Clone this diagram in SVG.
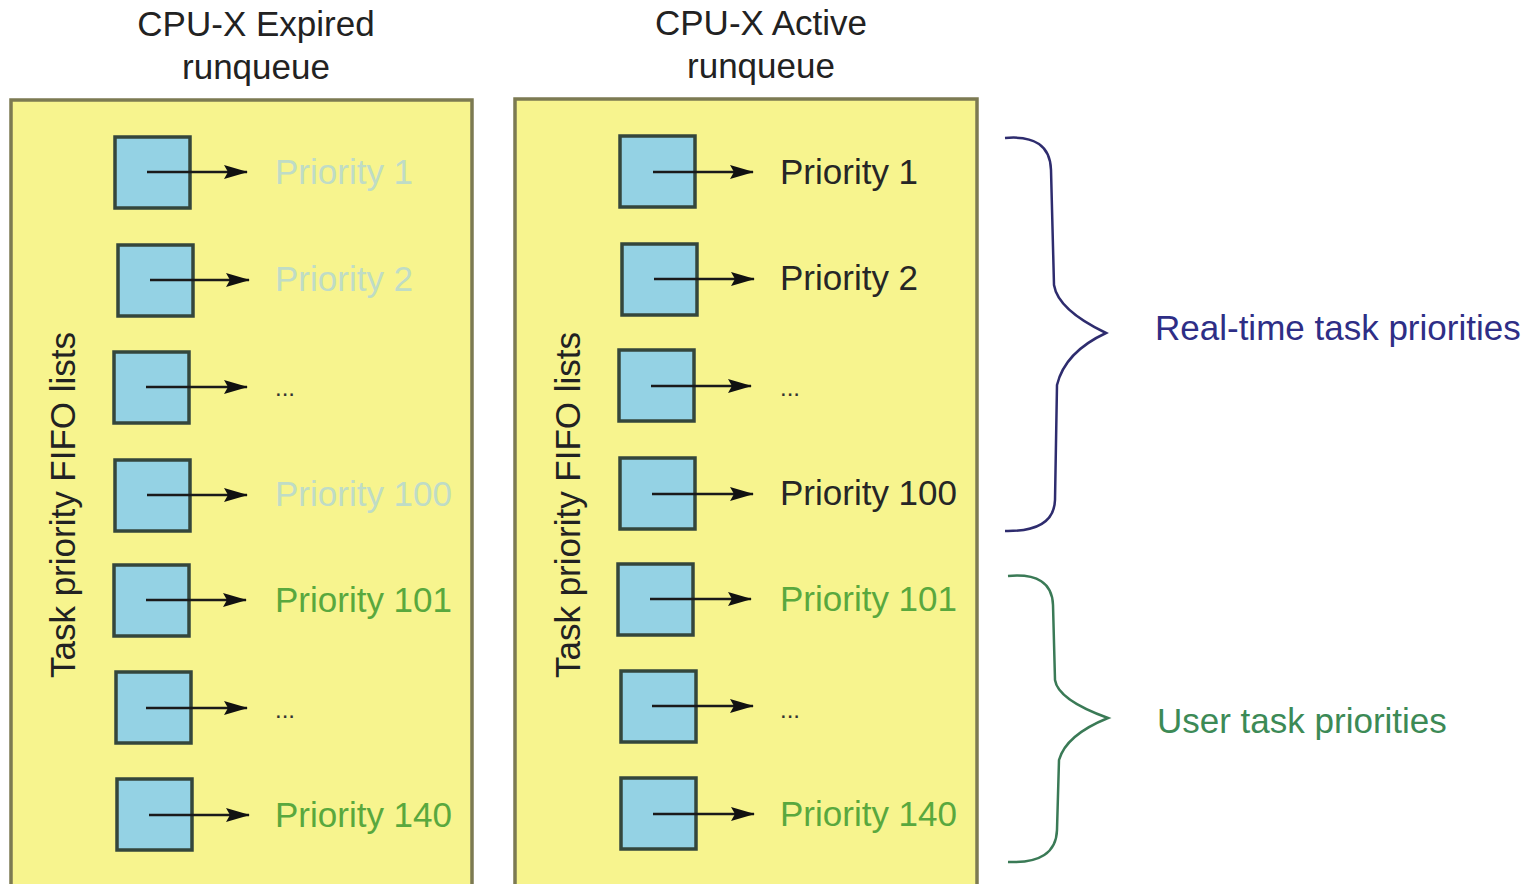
<svg xmlns="http://www.w3.org/2000/svg" width="1535" height="884" viewBox="0 0 1535 884">
<style>
text{font-family:"Liberation Sans",Arial,sans-serif;}
.panel{fill:#f7f48e;stroke:#7c7a52;stroke-width:3.5;}
.q{fill:#94d2e4;stroke:#34463c;stroke-width:3.5;}
.lbl{font-size:35px;}
.fade{fill:#bfdcc6;}
.grn{fill:#59a83e;}
.blk{fill:#262626;}
.dots{font-size:24px;fill:#333;}
.title{font-size:35px;fill:#222;text-anchor:middle;}
.vt{font-size:35px;fill:#222;text-anchor:middle;}
.arr{stroke:#1a1a1a;stroke-width:2.5;fill:none;marker-end:url(#ah);}
.brace{fill:none;stroke-width:2.5;}
</style>
<defs>
<marker id="ah" markerWidth="24" markerHeight="16" refX="23" refY="8" orient="auto" markerUnits="userSpaceOnUse">
<path d="M0,1 L24,8 L0,15 L4,8 Z" fill="#111"/>
</marker>
</defs>
<rect width="1535" height="884" fill="#fff"/>
<g id="expired-panel">
<rect class="panel" x="11" y="100" width="461" height="800"/>
<text class="title" x="256" y="36">CPU-X Expired</text>
<text class="title" x="256" y="79">runqueue</text>
<text class="vt" transform="translate(75,505) rotate(-90)">Task priority FIFO lists</text>
</g>
<g id="active-panel">
<rect class="panel" x="515" y="99" width="462" height="800"/>
<text class="title" x="761" y="35">CPU-X Active</text>
<text class="title" x="761" y="78">runqueue</text>
<text class="vt" transform="translate(580,505) rotate(-90)">Task priority FIFO lists</text>
</g>
<g id="expired-queues">
<rect class="q" x="115" y="137" width="75" height="71"/>
<rect class="q" x="118" y="245" width="75" height="71"/>
<rect class="q" x="114" y="352" width="75" height="71"/>
<rect class="q" x="115" y="460" width="75" height="71"/>
<rect class="q" x="114" y="565" width="75" height="71"/>
<rect class="q" x="116" y="672" width="75" height="71"/>
<rect class="q" x="117" y="779" width="75" height="71"/>
</g>
<g id="active-queues">
<rect class="q" x="620" y="136" width="75" height="71"/>
<rect class="q" x="622" y="244" width="75" height="71"/>
<rect class="q" x="619" y="350" width="75" height="71"/>
<rect class="q" x="620" y="458" width="75" height="71"/>
<rect class="q" x="618" y="564" width="75" height="71"/>
<rect class="q" x="621" y="671" width="75" height="71"/>
<rect class="q" x="621" y="778" width="75" height="71"/>
</g>
<g id="connectors">
<line class="arr" x1="147" y1="172" x2="247" y2="172"/>
<line class="arr" x1="150" y1="280" x2="249" y2="280"/>
<line class="arr" x1="146" y1="387" x2="247" y2="387"/>
<line class="arr" x1="147" y1="495" x2="247" y2="495"/>
<line class="arr" x1="146" y1="600" x2="246" y2="600"/>
<line class="arr" x1="146" y1="708" x2="247" y2="708"/>
<line class="arr" x1="149" y1="815" x2="249" y2="815"/>
<line class="arr" x1="653" y1="172" x2="753" y2="172"/>
<line class="arr" x1="654" y1="279" x2="754" y2="279"/>
<line class="arr" x1="651" y1="386" x2="751" y2="386"/>
<line class="arr" x1="652" y1="494" x2="753" y2="494"/>
<line class="arr" x1="650" y1="599" x2="751" y2="599"/>
<line class="arr" x1="652" y1="706" x2="753" y2="706"/>
<line class="arr" x1="653" y1="814" x2="754" y2="814"/>
</g>
<g id="expired-labels">
<text class="lbl fade" x="275" y="184">Priority 1</text>
<text class="lbl fade" x="275" y="291">Priority 2</text>
<text class="dots" x="275" y="396">...</text>
<text class="lbl fade" x="275" y="506">Priority 100</text>
<text class="lbl grn" x="275" y="612">Priority 101</text>
<text class="dots" x="275" y="718">...</text>
<text class="lbl grn" x="275" y="827">Priority 140</text>
</g>
<g id="active-labels">
<text class="lbl blk" x="780" y="184">Priority 1</text>
<text class="lbl blk" x="780" y="290">Priority 2</text>
<text class="dots" x="780" y="396">...</text>
<text class="lbl blk" x="780" y="505">Priority 100</text>
<text class="lbl grn" x="780" y="611">Priority 101</text>
<text class="dots" x="780" y="718">...</text>
<text class="lbl grn" x="780" y="826">Priority 140</text>
</g>
<g id="realtime-brace">
<path class="brace" stroke="#2e2c6e" d="M1005,138 Q1050,134 1051,170 L1054,285 Q1058,310 1106,333 Q1065,352 1057,385 L1055,500 Q1054,532 1005,531"/>
<text class="lbl" fill="#2e2e86" x="1155" y="340">Real-time task priorities</text>
</g>
<g id="user-brace">
<path class="brace" stroke="#3a7a56" d="M1008,576 Q1052,572 1053,605 L1055,680 Q1058,700 1108,718 Q1066,735 1059,760 L1057,830 Q1056,864 1008,862"/>
<text class="lbl" fill="#3c8a56" x="1157" y="733">User task priorities</text>
</g>
</svg>
